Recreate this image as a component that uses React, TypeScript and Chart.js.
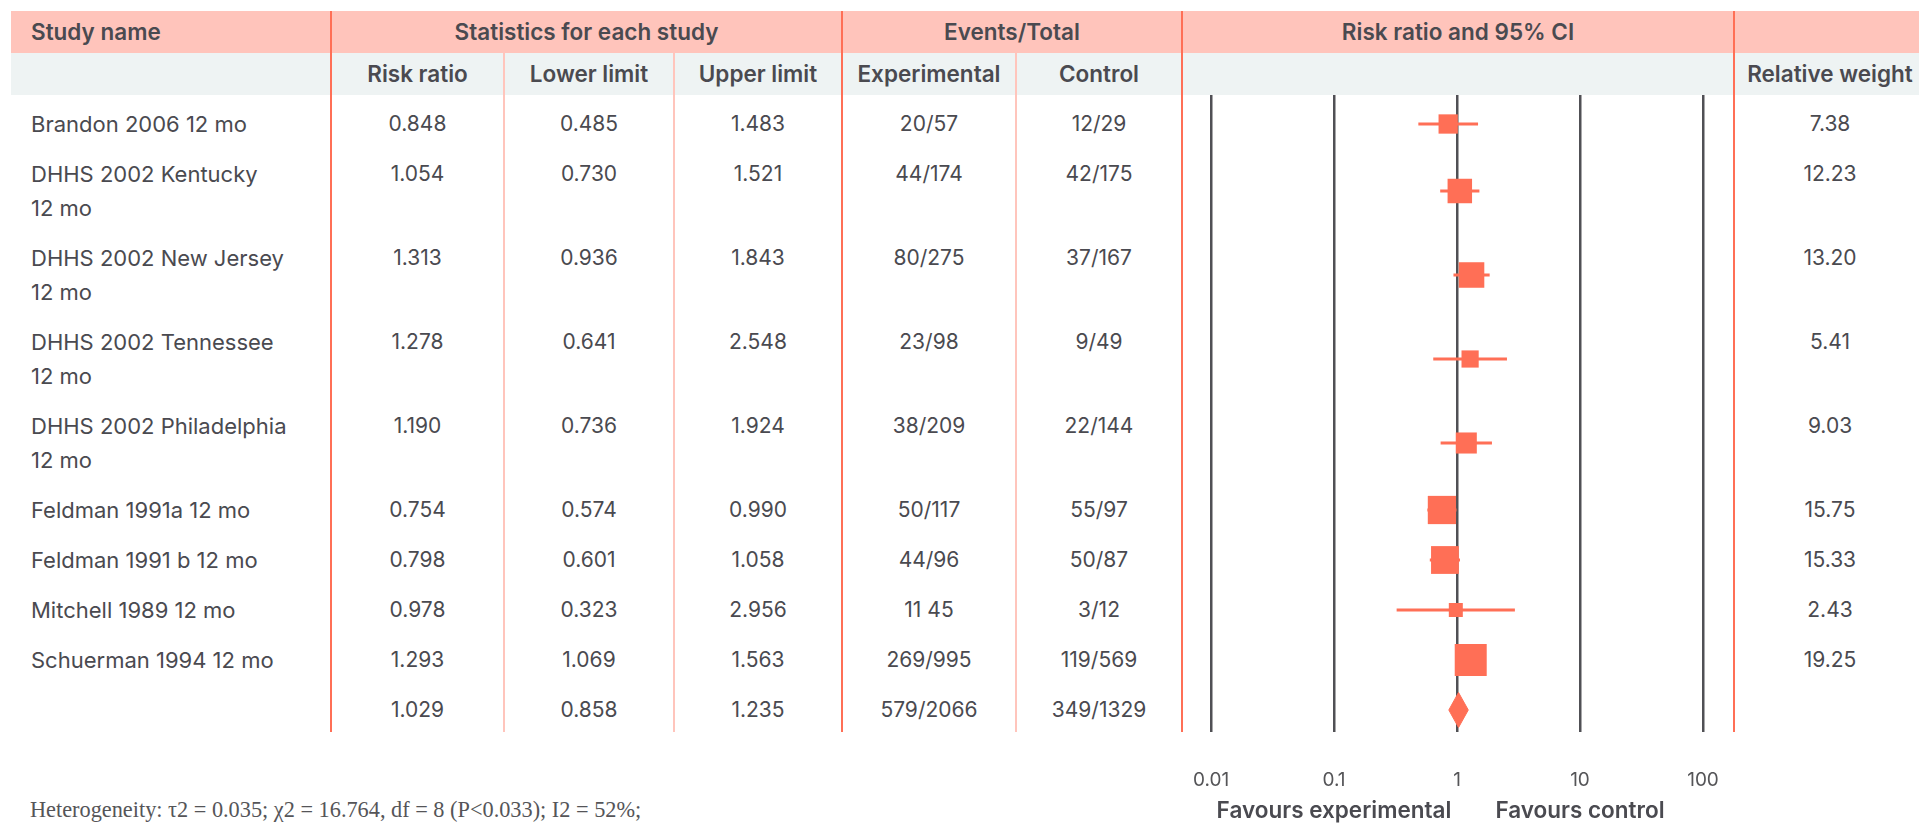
import React, { useEffect, useRef } from "react";
import { Chart, registerables } from "chart.js";

Chart.register(...registerables);

// ---- study data ----
const studyNames = [
  "Brandon 2006 12\u00a0mo",
  "DHHS 2002 Kentucky 12\u00a0mo",
  "DHHS 2002 New Jersey 12\u00a0mo",
  "DHHS 2002 Tennessee 12\u00a0mo",
  "DHHS 2002 Philadelphia 12\u00a0mo",
  "Feldman 1991a 12\u00a0mo",
  "Feldman 1991 b 12\u00a0mo",
  "Mitchell 1989 12\u00a0mo",
  "Schuerman 1994 12\u00a0mo",
];
const riskRatio = [0.848, 1.054, 1.313, 1.278, 1.19, 0.754, 0.798, 0.978, 1.293];
const lowerLimit = [0.485, 0.73, 0.936, 0.641, 0.736, 0.574, 0.601, 0.323, 1.069];
const upperLimit = [1.483, 1.521, 1.843, 2.548, 1.924, 0.99, 1.058, 2.956, 1.563];
const experimentalEvents = ["20/57", "44/174", "80/275", "23/98", "38/209", "50/117", "44/96", "11 45", "269/995"];
const controlEvents = ["12/29", "42/175", "37/167", "9/49", "22/144", "55/97", "50/87", "3/12", "119/569"];
const relativeWeight = [7.38, 12.23, 13.2, 5.41, 9.03, 15.75, 15.33, 2.43, 19.25];

// pooled estimate
const pooledRiskRatio = 1.029;
const pooledLower = 0.858;
const pooledUpper = 1.235;
const pooledExperimental = "579/2066";
const pooledControl = "349/1329";

// axis
const xTicks = [0.01, 0.1, 1, 10, 100];
const favourLabels = ["Favours experimental", "Favours control"];
const favourAnchors = [0.1, 10];

const heterogeneityNote = "Heterogeneity: \u03c42 = 0.035; \u03c72 = 16.764, df = 8 (P<0.033); I2 = 52%;";

// ---- styling ----
const CORAL = "#ff6f56";
const PINK = "#ffc4bb";
const PALE_LINE = "#ffc5bc";
const GREY_BG = "#eef3f3";
const INK = "#4a4a50";
const GRID = "#505055";
const FONT = "Inter, 'Noto Sans', sans-serif";
const HEAD_SIZE = 22.5;
const NAME_SIZE = 22;
const NUM_SIZE = 21;

const colEdges = [11, 331, 504, 674, 842, 1016, 1182, 1734, 1926];
const HEAD_TOP = 11;
const HEAD_H = 42;
const BODY_TOP = 95;
const BODY_BOTTOM = 732;
const PAD_TOP = 12;
const PAD_BOTTOM = 4;
const LINE_H = 34;
const CANVAS_H = 730;
const NAME_TEXT_W = 272;

const colWidth = (c: number, span = 1) => colEdges[c + span] - colEdges[c];

function HeadCell(props: { col: number; span?: number; top: number; align?: "left" | "center"; text: string }) {
  const { col, span = 1, top, align = "center", text } = props;
  return (
    <div
      style={{
        position: "absolute",
        left: colEdges[col],
        top,
        width: colWidth(col, span),
        height: HEAD_H,
        lineHeight: HEAD_H + "px",
        textAlign: align,
        paddingLeft: align === "left" ? 20 : 0,
        boxSizing: "border-box",
        fontWeight: 600,
        fontSize: HEAD_SIZE,
        whiteSpace: "nowrap",
      }}
    >
      {text}
    </div>
  );
}

function BodyRow(props: { cells: string[]; rowRef: (el: HTMLDivElement | null) => void }) {
  const { cells, rowRef } = props;
  return (
    <div ref={rowRef} style={{ display: "flex", paddingTop: PAD_TOP, paddingBottom: PAD_BOTTOM, lineHeight: LINE_H + "px" }}>
      <div
        style={{
          width: colWidth(0),
          paddingLeft: 20,
          paddingRight: colWidth(0) - 20 - NAME_TEXT_W,
          boxSizing: "border-box",
          fontSize: NAME_SIZE,
        }}
      >
        {cells[0]}
      </div>
      {[1, 2, 3, 4, 5].map((c) => (
        <div key={c} style={{ width: colWidth(c), textAlign: "center", fontSize: NUM_SIZE }}>
          {cells[c]}
        </div>
      ))}
      <div style={{ width: colWidth(6) }} />
      <div style={{ width: colWidth(7), textAlign: "center", fontSize: NUM_SIZE }}>{cells[6]}</div>
    </div>
  );
}

const favoursPlugin = {
  id: "favours",
  afterDraw(chart: any) {
    const { ctx } = chart;
    const xs = chart.scales.x;
    ctx.save();
    ctx.fillStyle = INK;
    ctx.font = `600 ${HEAD_SIZE}px ${FONT}`;
    ctx.textAlign = "center";
    ctx.textBaseline = "middle";
    favourLabels.forEach((label, i) => {
      ctx.fillText(label, xs.getPixelForValue(favourAnchors[i]), 811 - BODY_TOP);
    });
    ctx.restore();
  },
};

export default function App() {
  const canvasRef = useRef<HTMLCanvasElement | null>(null);
  const rowRefs = useRef<(HTMLDivElement | null)[]>([]);

  useEffect(() => {
    const canvas = canvasRef.current;
    if (!canvas) return;
    // vertical centre of each row's text block, in body coordinates
    const centers = rowRefs.current.map((el) => {
      const r = el!.getBoundingClientRect();
      return r.top + PAD_TOP + (r.height - PAD_TOP - PAD_BOTTOM) / 2 - BODY_TOP;
    });
    const studyY = centers.slice(0, studyNames.length);
    const pooledY = centers[studyNames.length];

    const ciDatasets = studyNames.map((_, i) => ({
      type: "line" as const,
      data: [
        { x: lowerLimit[i], y: studyY[i] },
        { x: upperLimit[i], y: studyY[i] },
      ],
      borderColor: CORAL,
      borderWidth: 3,
      pointRadius: 0,
      fill: false,
      order: 2,
    }));

    const squareRadius = relativeWeight.map((w) => (11.4 + 1.07 * w) / Math.SQRT2);
    const diamondHalf = 17.5;

    const chart = new Chart(canvas, {
      type: "scatter",
      data: {
        datasets: [
          {
            type: "scatter",
            data: studyNames.map((_, i) => ({ x: riskRatio[i], y: studyY[i] })),
            pointStyle: "rect",
            pointRadius: squareRadius,
            pointHoverRadius: squareRadius,
            backgroundColor: CORAL,
            borderWidth: 0,
            order: 0,
          } as any,
          {
            type: "line",
            data: [
              { x: pooledLower, y: pooledY },
              { x: pooledRiskRatio, y: pooledY - diamondHalf },
              { x: pooledUpper, y: pooledY },
              { x: pooledRiskRatio, y: pooledY + diamondHalf },
              { x: pooledLower, y: pooledY },
            ],
            borderColor: CORAL,
            backgroundColor: CORAL,
            borderWidth: 1,
            pointRadius: 0,
            tension: 0,
            fill: "shape",
            order: 0,
          } as any,
          ...(ciDatasets as any[]),
        ],
      },
      options: {
        animation: false,
        responsive: false,
        events: [],
        clip: false,
        layout: { autoPadding: false, padding: { left: 29, right: 31, top: 0, bottom: 0 } },
        plugins: { legend: { display: false }, tooltip: { enabled: false } },
        scales: {
          x: {
            type: "logarithmic",
            min: 0.01,
            max: 100,
            afterBuildTicks: (s: any) => {
              s.ticks = xTicks.map((v) => ({ value: v }));
            },
            afterFit: (s: any) => {
              s.height = CANVAS_H - (BODY_BOTTOM - BODY_TOP);
            },
            grid: {
              color: GRID,
              lineWidth: 2.5,
              drawTicks: true,
              tickLength: 37,
              tickColor: "rgba(0,0,0,0)",
            },
            border: { display: false },
            ticks: {
              padding: 0,
              color: "#555558",
              font: { family: FONT, size: 19 },
              autoSkip: false,
              maxRotation: 0,
              callback: (v: any) => String(v),
            },
          },
          y: { type: "linear", min: 0, max: BODY_BOTTOM - BODY_TOP, reverse: true, display: false },
        },
      } as any,
      plugins: [favoursPlugin],
    });
    return () => chart.destroy();
  }, []);

  const rows = studyNames.map((name, i) => [
    name,
    riskRatio[i].toFixed(3),
    lowerLimit[i].toFixed(3),
    upperLimit[i].toFixed(3),
    experimentalEvents[i],
    controlEvents[i],
    relativeWeight[i].toFixed(2),
  ]);
  rows.push(["", pooledRiskRatio.toFixed(3), pooledLower.toFixed(3), pooledUpper.toFixed(3), pooledExperimental, pooledControl, ""]);

  const mainLines = [1, 4, 6, 7];
  const paleLines = [2, 3, 5];

  return (
    <div
      style={{
        position: "absolute",
        left: 0,
        top: 0,
        width: 1919,
        height: 825,
        overflow: "hidden",
        background: "#ffffff",
        fontFamily: FONT,
        fontSize: NUM_SIZE,
        color: INK,
      }}
    >
      <div style={{ position: "absolute", left: colEdges[0], top: HEAD_TOP, right: 0, height: HEAD_H, background: PINK }} />
      <div style={{ position: "absolute", left: colEdges[0], top: HEAD_TOP + HEAD_H, right: 0, height: HEAD_H, background: GREY_BG }} />

      <HeadCell col={0} top={HEAD_TOP} align="left" text="Study name" />
      <HeadCell col={1} span={3} top={HEAD_TOP} text="Statistics for each study" />
      <HeadCell col={4} span={2} top={HEAD_TOP} text="Events/Total" />
      <HeadCell col={6} top={HEAD_TOP} text="Risk ratio and 95% CI" />

      <HeadCell col={1} top={HEAD_TOP + HEAD_H} text="Risk ratio" />
      <HeadCell col={2} top={HEAD_TOP + HEAD_H} text="Lower limit" />
      <HeadCell col={3} top={HEAD_TOP + HEAD_H} text="Upper limit" />
      <HeadCell col={4} top={HEAD_TOP + HEAD_H} text="Experimental" />
      <HeadCell col={5} top={HEAD_TOP + HEAD_H} text="Control" />
      <HeadCell col={7} top={HEAD_TOP + HEAD_H} text="Relative weight" />

      <div style={{ position: "absolute", left: colEdges[0], top: BODY_TOP, width: colEdges[8] - colEdges[0] }}>
        {rows.map((cells, i) => (
          <BodyRow key={i} cells={cells} rowRef={(el) => (rowRefs.current[i] = el)} />
        ))}
      </div>

      <canvas
        ref={canvasRef}
        width={colWidth(6)}
        height={CANVAS_H}
        style={{ position: "absolute", left: colEdges[6], top: BODY_TOP, width: colWidth(6), height: CANVAS_H }}
      />

      {mainLines.map((c) => (
        <div
          key={"m" + c}
          style={{ position: "absolute", left: colEdges[c] - 1, top: HEAD_TOP, width: 2, height: BODY_BOTTOM - HEAD_TOP, background: CORAL }}
        />
      ))}
      {paleLines.map((c) => (
        <div
          key={"p" + c}
          style={{
            position: "absolute",
            left: colEdges[c] - 1,
            top: HEAD_TOP + HEAD_H,
            width: 2,
            height: BODY_BOTTOM - HEAD_TOP - HEAD_H,
            background: PALE_LINE,
          }}
        />
      ))}

      <div
        style={{
          position: "absolute",
          left: 30,
          top: 796,
          fontFamily: "'Liberation Serif', 'DejaVu Serif', serif",
          fontSize: 22.3,
          lineHeight: "28px",
          color: "#555558",
          whiteSpace: "nowrap",
        }}
      >
        {heterogeneityNote}
      </div>
    </div>
  );
}
